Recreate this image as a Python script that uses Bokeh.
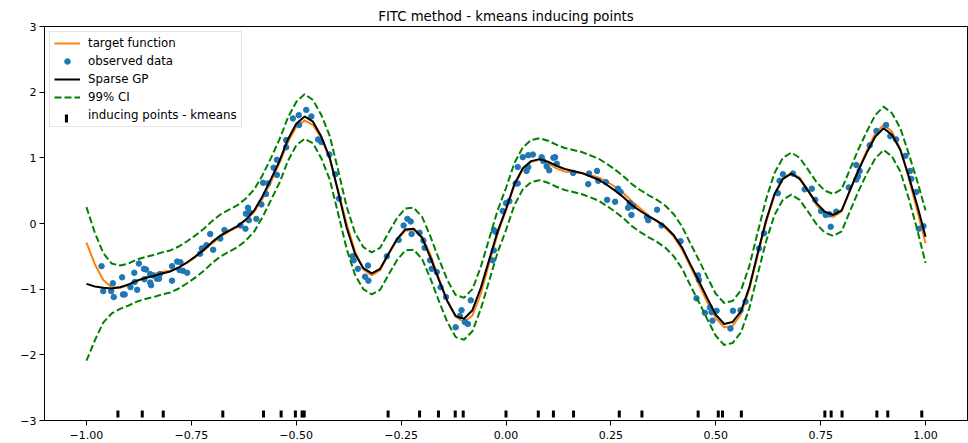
from bokeh.plotting import figure
from bokeh.models import Range1d, FixedTicker, Legend, LegendItem
from bokeh.embed import file_html
from bokeh.resources import INLINE
import math

# ---------------- data ----------------
x_grid = [-1.00, -0.98, -0.96, -0.94, -0.92, -0.90, -0.88, -0.86, -0.84, -0.82,
          -0.80, -0.78, -0.76, -0.74, -0.72, -0.70, -0.68, -0.66, -0.64, -0.62,
          -0.60, -0.58, -0.56, -0.54, -0.52, -0.50, -0.48, -0.46, -0.44, -0.42,
          -0.40, -0.38, -0.36, -0.34, -0.32, -0.30, -0.28, -0.26, -0.24, -0.22,
          -0.20, -0.18, -0.16, -0.14, -0.12, -0.10, -0.08, -0.06, -0.04, -0.02,
          0.00, 0.02, 0.04, 0.06, 0.08, 0.10, 0.12, 0.14, 0.16, 0.18,
          0.20, 0.22, 0.24, 0.26, 0.28, 0.30, 0.32, 0.34, 0.36, 0.38,
          0.40, 0.42, 0.44, 0.46, 0.48, 0.50, 0.52, 0.54, 0.56, 0.58,
          0.60, 0.62, 0.64, 0.66, 0.68, 0.70, 0.72, 0.74, 0.76, 0.78,
          0.80, 0.82, 0.84, 0.86, 0.88, 0.90, 0.92, 0.94, 0.96, 0.98, 1.00]

target_y = [-0.29, -0.62, -0.86, -0.97, -0.98, -0.94, -0.88, -0.82, -0.77, -0.74,
            -0.72, -0.67, -0.60, -0.51, -0.41, -0.30, -0.20, -0.12, -0.05, 0.05,
            0.18, 0.38, 0.64, 0.92, 1.24, 1.47, 1.57, 1.50, 1.30, 0.98,
            0.50, 0.00, -0.42, -0.70, -0.79, -0.71, -0.47, -0.25, -0.11, -0.09,
            -0.20, -0.48, -0.84, -1.18, -1.42, -1.50, -1.40, -1.07, -0.60, -0.16,
            0.20, 0.58, 0.82, 0.94, 0.97, 0.92, 0.84, 0.79, 0.78, 0.77,
            0.74, 0.70, 0.64, 0.56, 0.46, 0.34, 0.23, 0.12, 0.03, -0.07,
            -0.20, -0.40, -0.66, -0.93, -1.20, -1.44, -1.58, -1.56, -1.38, -1.00,
            -0.48, 0.02, 0.43, 0.68, 0.77, 0.70, 0.50, 0.28, 0.14, 0.10,
            0.18, 0.50, 0.82, 1.11, 1.37, 1.50, 1.40, 1.13, 0.69, 0.20, -0.30]

gp_mean = [-0.92, -0.96, -0.98, -0.99, -0.97, -0.93, -0.87, -0.83, -0.80, -0.76,
           -0.73, -0.67, -0.59, -0.50, -0.40, -0.28, -0.18, -0.11, -0.04, 0.06,
           0.20, 0.42, 0.68, 0.95, 1.28, 1.52, 1.63, 1.55, 1.32, 1.00,
           0.48, -0.06, -0.46, -0.68, -0.76, -0.69, -0.46, -0.24, -0.09, -0.08,
           -0.22, -0.52, -0.86, -1.18, -1.41, -1.45, -1.32, -0.98, -0.55, -0.12,
           0.22, 0.60, 0.84, 0.95, 0.98, 0.94, 0.88, 0.83, 0.80, 0.77,
           0.72, 0.67, 0.59, 0.50, 0.40, 0.28, 0.19, 0.11, 0.04, -0.05,
           -0.18, -0.37, -0.63, -0.88, -1.14, -1.39, -1.53, -1.50, -1.34, -0.97,
           -0.45, 0.05, 0.45, 0.68, 0.76, 0.68, 0.50, 0.31, 0.18, 0.13,
           0.20, 0.51, 0.81, 1.08, 1.32, 1.45, 1.35, 1.12, 0.72, 0.28, -0.20]

ci_half = [1.17, 0.82, 0.53, 0.38, 0.33, 0.32, 0.32, 0.32, 0.32, 0.32,
           0.32, 0.32, 0.32, 0.32, 0.32, 0.32, 0.32, 0.32, 0.32, 0.32,
           0.32, 0.32, 0.32, 0.33, 0.33, 0.33, 0.34, 0.33, 0.33, 0.33,
           0.33, 0.32, 0.32, 0.32, 0.32, 0.32, 0.32, 0.32, 0.32, 0.32,
           0.32, 0.32, 0.32, 0.32, 0.32, 0.32, 0.32, 0.32, 0.32, 0.32,
           0.32, 0.32, 0.32, 0.32, 0.32, 0.32, 0.32, 0.32, 0.32, 0.32,
           0.32, 0.32, 0.32, 0.32, 0.32, 0.32, 0.32, 0.32, 0.32, 0.32,
           0.32, 0.32, 0.32, 0.32, 0.32, 0.32, 0.32, 0.32, 0.32, 0.32,
           0.32, 0.32, 0.32, 0.32, 0.32, 0.32, 0.32, 0.32, 0.32, 0.32,
           0.32, 0.32, 0.32, 0.32, 0.33, 0.33, 0.33, 0.33, 0.34, 0.37, 0.40]

obs_x = [-0.964, -0.960, -0.941, -0.937, -0.935, -0.915, -0.913, -0.909, -0.895, -0.886,
         -0.885, -0.879, -0.875, -0.863, -0.858, -0.862, -0.848, -0.848, -0.846, -0.841,
         -0.832, -0.827, -0.825, -0.796, -0.796, -0.784, -0.776, -0.778, -0.770, -0.760,
         -0.729, -0.725, -0.714, -0.698, -0.705, -0.681, -0.671,
         -0.633, -0.621, -0.620, -0.615, -0.613, -0.611, -0.595, -0.583, -0.579, -0.572,
         -0.567, -0.554, -0.546, -0.546, -0.524, -0.524, -0.508, -0.494, -0.493, -0.476,
         -0.464, -0.448, -0.440, -0.421, -0.407, -0.398, -0.366, -0.363, -0.353, -0.336,
         -0.329, -0.328,
         -0.284, -0.256, -0.244, -0.235, -0.227, -0.225, -0.206, -0.197, -0.194, -0.181,
         -0.177, -0.165, -0.156, -0.143, -0.120, -0.110, -0.106, -0.098, -0.091, -0.084,
         -0.032, -0.029, -0.029, -0.024, -0.008, 0.000, 0.008, 0.023, 0.028, 0.028,
         0.040, 0.049, 0.053, 0.053, 0.064, 0.085, 0.089, 0.097, 0.103, 0.113,
         0.117, 0.121, 0.160, 0.196, 0.198, 0.217, 0.220, 0.238, 0.241, 0.260,
         0.267, 0.273, 0.291, 0.295, 0.299, 0.303, 0.336, 0.339, 0.360, 0.371,
         0.416, 0.458, 0.460, 0.454, 0.474, 0.486, 0.490, 0.492, 0.502, 0.535,
         0.541, 0.559, 0.571, 0.603, 0.615, 0.648, 0.652, 0.660, 0.684,
         0.712, 0.729, 0.737, 0.751, 0.762, 0.771, 0.774, 0.787, 0.817, 0.835,
         0.835, 0.839, 0.843, 0.867, 0.883, 0.906, 0.916, 0.930, 0.952, 0.963,
         0.966, 0.978, 0.984, 0.995]
obs_y = [-0.65, -1.03, -1.03, -0.91, -1.12, -0.82, -1.08, -1.08, -0.97, -0.75,
         -0.89, -1.01, -0.61, -0.69, -0.70, -0.85, -0.77, -0.90, -0.94, -0.79,
         -0.84, -0.84, -0.77, -0.65, -0.87, -0.58, -0.59, -0.71, -0.72, -0.75,
         -0.46, -0.38, -0.33, -0.40, -0.16, -0.23, -0.10,
         -0.03, -0.08, 0.15, 0.24, 0.05, 0.17, 0.07, 0.29, 0.62, 0.45,
         0.61, 0.85, 0.74, 0.97, 1.27, 1.16, 1.60, 1.65, 1.50, 1.73,
         1.63, 1.28, 1.24, 1.05, 0.75, 0.38, -0.50, -0.56, -0.69, -0.81,
         -0.64, -0.87,
         -0.50, -0.25, -0.03, 0.07, 0.03, -0.16, -0.14, -0.26, -0.37, -0.56,
         -0.69, -0.74, -0.97, -1.12, -1.58, -1.41, -1.32, -1.50, -1.53, -1.17,
         -0.56, -0.41, -0.10, -0.13, 0.19, 0.31, 0.34, 0.61, 0.61, 0.86,
         1.01, 0.80, 0.86, 1.04, 1.05, 1.01, 0.95, 0.87, 0.81, 1.00,
         1.01, 0.91, 0.77, 0.60, 0.76, 0.80, 0.65, 0.63, 0.36, 0.33,
         0.53, 0.48, 0.24, 0.31, 0.13, 0.26, 0.10, 0.05, 0.21, -0.03,
         -0.27, -0.79, -0.86, -1.14, -1.36, -1.28, -1.35, -1.48, -1.33, -1.60,
         -1.33, -1.32, -1.19, -0.38, -0.15, 0.46, 0.65, 0.75, 0.76,
         0.52, 0.53, 0.36, 0.19, 0.13, 0.14, -0.05, 0.18, 0.55, 0.89,
         0.67, 0.72, 0.80, 1.19, 1.41, 1.50, 1.33, 1.28, 1.03, 0.80,
         0.68, 0.48, -0.08, -0.04]

inducing_x = [-0.925, -0.867, -0.817, -0.675, -0.578, -0.536, -0.502, -0.486, -0.481,
              -0.281, -0.206, -0.161, -0.121, -0.102, 0.000, 0.077, 0.113, 0.161,
              0.270, 0.324, 0.458, 0.506, 0.516, 0.561, 0.760, 0.775, 0.801,
              0.884, 0.910, 0.991]
inducing_level = -2.9
inducing_y = [inducing_level] * len(inducing_x)

x_ticks = [-1.0, -0.75, -0.5, -0.25, 0.0, 0.25, 0.5, 0.75, 1.0]
x_tick_labels = ["\u22121.00", "\u22120.75", "\u22120.50", "\u22120.25", "0.00",
                 "0.25", "0.50", "0.75", "1.00"]
y_ticks = [-3, -2, -1, 0, 1, 2, 3]
y_tick_labels = ["\u22123", "\u22122", "\u22121", "0", "1", "2", "3"]

title_text = "FITC method - kmeans inducing points"

ci_upper = [m + h for m, h in zip(gp_mean, ci_half)]
ci_lower = [m - h for m, h in zip(gp_mean, ci_half)]

# ---------------- figure ----------------
FONT = "DejaVu Sans"
p = figure(width=968, height=443, x_range=Range1d(-1.1, 1.1), y_range=Range1d(-3, 3),
           output_backend="svg", toolbar_location=None, title=title_text,
           min_border_left=44, min_border_right=1, min_border_top=26, min_border_bottom=23)
p.background_fill_color = "white"
p.border_fill_color = "white"
p.outline_line_color = "black"
p.outline_line_width = 1
p.xgrid.visible = False
p.ygrid.visible = False

p.title.align = "center"
p.title.text_font = FONT
p.title.text_font_size = "13.3px"
p.title.text_font_style = "normal"
p.title.text_color = "black"
p.title.standoff = 6

for ax in (p.xaxis[0], p.yaxis[0]):
    ax.axis_line_color = "black"
    ax.major_tick_line_color = "black"
    ax.major_tick_in = 0
    ax.major_tick_out = 5
    ax.minor_tick_line_color = None
    ax.major_label_text_font = FONT
    ax.major_label_text_font_size = "11px"
    ax.major_label_text_color = "black"
p.xaxis.major_label_standoff = 5
p.yaxis.major_label_standoff = 3

p.xaxis.ticker = FixedTicker(ticks=x_ticks)
p.xaxis.major_label_overrides = dict(zip(x_ticks, x_tick_labels))
p.yaxis.ticker = FixedTicker(ticks=y_ticks)
p.yaxis.major_label_overrides = dict(zip([float(v) for v in y_ticks], y_tick_labels))

r_target = p.line(x_grid, target_y, line_color="#ff7f0e", line_width=2)
r_obs = p.scatter(obs_x, obs_y, size=5.5, fill_color="#1f77b4", line_color="#1f77b4")
r_gp = p.line(x_grid, gp_mean, line_color="black", line_width=2)
r_up = p.line(x_grid, ci_upper, line_color="#008000", line_width=2, line_dash="7 3")
r_lo = p.line(x_grid, ci_lower, line_color="#008000", line_width=2, line_dash="7 3")
r_ind = p.scatter(inducing_x, inducing_y, marker="dash", angle=math.pi / 2, size=7,
                  line_color="black", line_width=3)

# legend proxies for the inducing-points entry: an invisible placeholder in the main
# legend, and a zero-height bar whose legend glyph (a small filled box) gives the
# vertical tick drawn by a second, transparent legend on top of it
r_ind_blank = p.scatter(inducing_x[:1], inducing_y[:1], size=1, fill_alpha=0, line_alpha=0)
r_ind_bar = p.vbar(x=inducing_x[:1], top=inducing_y[:1], bottom=inducing_y[:1], width=0,
                   fill_color="black", line_color=None)

lg = Legend(items=[
    LegendItem(label="target function", renderers=[r_target]),
    LegendItem(label="observed data", renderers=[r_obs]),
    LegendItem(label="Sparse GP", renderers=[r_gp]),
    LegendItem(label="99% CI", renderers=[r_up]),
    LegendItem(label="inducing points - kmeans", renderers=[r_ind_blank]),
])
lg.location = "top_left"
lg.margin = 5
lg.padding = 4
lg.spacing = 4
lg.glyph_width = 26
lg.glyph_height = 14
lg.label_height = 14
lg.label_standoff = 8
lg.label_text_font = FONT
lg.label_text_font_size = "11.8px"
lg.label_text_color = "black"
lg.border_line_color = "#cccccc"
lg.border_line_width = 1
lg.background_fill_alpha = 0.85
p.add_layout(lg)

tick_leg = Legend(items=[LegendItem(label=" ", renderers=[r_ind_bar])],
                  location=(20, 297), margin=0, padding=0, spacing=0,
                  glyph_width=4, glyph_height=10, label_height=10, label_width=0,
                  label_standoff=0, label_text_font_size="1px",
                  border_line_color=None, background_fill_alpha=0)
p.add_layout(tick_leg)

open("out.html", "w").write(file_html(p, INLINE))
